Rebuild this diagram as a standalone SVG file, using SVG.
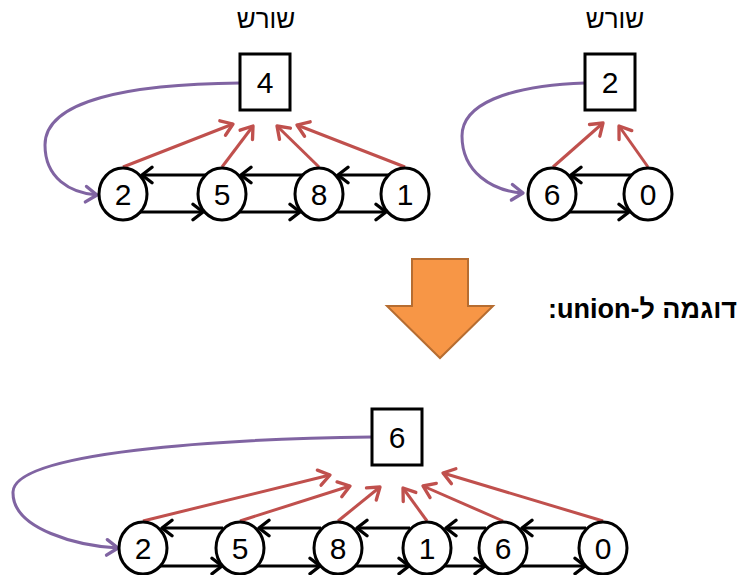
<svg xmlns="http://www.w3.org/2000/svg" width="742" height="575" viewBox="0 0 742 575">
  <defs>
    <marker id="head-black" markerUnits="userSpaceOnUse" markerWidth="20" markerHeight="20" viewBox="-12 -9 14 18" refX="0" refY="0" orient="auto">
      <path d="M-9,-7 L0,0 L-9,7" fill="none" stroke="#000" stroke-width="3" stroke-linecap="round" stroke-linejoin="round"/>
    </marker>
    <marker id="head-red" markerUnits="userSpaceOnUse" markerWidth="20" markerHeight="20" viewBox="-12 -9 14 18" refX="0" refY="0" orient="auto">
      <path d="M-10,-7 L0,0 L-10,7" fill="none" stroke="#C0504D" stroke-width="3" stroke-linecap="round" stroke-linejoin="round"/>
    </marker>
    <marker id="head-purple" markerUnits="userSpaceOnUse" markerWidth="20" markerHeight="20" viewBox="-12 -9 14 18" refX="0" refY="0" orient="auto">
      <path d="M-10,-7 L0,0 L-10,7" fill="none" stroke="#8064A2" stroke-width="3" stroke-linecap="round" stroke-linejoin="round"/>
    </marker>
  </defs>
  <style>
    .root rect { fill: #fff; stroke: #000; stroke-width: 3; }
    .item ellipse { fill: #fff; stroke: #000; stroke-width: 3; }
    .num { font-family: "Liberation Sans", Arial, sans-serif; font-size: 30px; fill: #000; text-anchor: middle; }
    .title { font-family: "Liberation Sans", "DejaVu Sans", sans-serif; font-size: 26px; fill: #000; text-anchor: middle; }
    .link { fill: none; stroke: #000; stroke-width: 3; marker-end: url(#head-black); }
    .up { fill: none; stroke: #C0504D; stroke-width: 3; marker-end: url(#head-red); }
    .first { fill: none; stroke: #8064A2; stroke-width: 3; marker-end: url(#head-purple); }
    .caption { font-family: "Liberation Sans", "DejaVu Sans", sans-serif; font-size: 27px; font-weight: bold; fill: #000; }
  </style>

  <rect width="742" height="575" fill="#fff"/>

  <!-- connectors -->
  <g id="connectors">
    <!-- set A: 2,5,8,1 -->
    <path class="first" d="M240,83 C130,84 45,100 45,145 C45,178 70,193 97,195"/>
    <line class="up" x1="123" y1="167" x2="233" y2="124"/>
    <line class="up" x1="222" y1="167" x2="253" y2="126"/>
    <line class="up" x1="319" y1="167" x2="277" y2="126"/>
    <line class="up" x1="405" y1="167" x2="297" y2="125"/>
    <line class="link" x1="206" y1="175" x2="142" y2="175"/>
    <line class="link" x1="303" y1="175" x2="241" y2="175"/>
    <line class="link" x1="389" y1="175" x2="338" y2="175"/>
    <line class="link" x1="140" y1="212" x2="203" y2="212"/>
    <line class="link" x1="239" y1="212" x2="300" y2="212"/>
    <line class="link" x1="336" y1="212" x2="386" y2="212"/>

    <!-- set B: 6,0 -->
    <path class="first" d="M585,83 C505,86 462,105 462,136 C462,172 492,191 523,193"/>
    <line class="up" x1="553" y1="167" x2="603" y2="123"/>
    <line class="up" x1="648" y1="167" x2="619" y2="126"/>
    <line class="link" x1="632" y1="175" x2="571" y2="175"/>
    <line class="link" x1="569" y1="212" x2="629" y2="212"/>

    <!-- merged set -->
    <path class="first" d="M372,437 C220,439 14,452 13,492 C12,530 80,546 118,548"/>
    <line class="up" x1="143" y1="521" x2="330" y2="475"/>
    <line class="up" x1="240" y1="521" x2="350" y2="486"/>
    <line class="up" x1="338" y1="521" x2="380" y2="487"/>
    <line class="up" x1="427" y1="521" x2="403" y2="488"/>
    <line class="up" x1="503" y1="521" x2="423" y2="486"/>
    <line class="up" x1="603" y1="521" x2="443" y2="473"/>
    <line class="link" x1="223" y1="528" x2="162" y2="528"/>
    <line class="link" x1="321" y1="528" x2="259" y2="528"/>
    <line class="link" x1="410" y1="528" x2="357" y2="528"/>
    <line class="link" x1="486" y1="528" x2="446" y2="528"/>
    <line class="link" x1="586" y1="528" x2="522" y2="528"/>
    <line class="link" x1="160" y1="566" x2="222" y2="566"/>
    <line class="link" x1="257" y1="566" x2="320" y2="566"/>
    <line class="link" x1="355" y1="566" x2="409" y2="566"/>
    <line class="link" x1="444" y1="566" x2="485" y2="566"/>
    <line class="link" x1="520" y1="566" x2="585" y2="566"/>
  </g>

  <!-- set A -->
  <text class="title" x="266" y="28">שורש</text>
  <g id="rootA" class="root"><rect x="240" y="54" width="50" height="56"/><text class="num" x="265" y="93">4</text></g>
  <g id="a2" class="item"><ellipse cx="123" cy="194" rx="24" ry="26"/><text class="num" x="123" y="205">2</text></g>
  <g id="a5" class="item"><ellipse cx="222" cy="194" rx="24" ry="26"/><text class="num" x="222" y="205">5</text></g>
  <g id="a8" class="item"><ellipse cx="319" cy="194" rx="24" ry="26"/><text class="num" x="319" y="205">8</text></g>
  <g id="a1" class="item"><ellipse cx="405" cy="194" rx="24" ry="26"/><text class="num" x="405" y="205">1</text></g>

  <!-- set B -->
  <text class="title" x="615" y="28">שורש</text>
  <g id="rootB" class="root"><rect x="585" y="54" width="50" height="56"/><text class="num" x="610" y="93">2</text></g>
  <g id="b6" class="item"><ellipse cx="552" cy="194" rx="24" ry="26"/><text class="num" x="552" y="205">6</text></g>
  <g id="b0" class="item"><ellipse cx="648" cy="194" rx="24" ry="26"/><text class="num" x="648" y="205">0</text></g>

  <!-- union step -->
  <g id="step">
    <path d="M412,259 L468,259 L468,306 L493,306 L440,358 L387,306 L412,306 Z" fill="#F79646" stroke="#B66D31" stroke-width="2"/>
    <text class="caption" x="737" y="318" direction="rtl" unicode-bidi="embed" text-anchor="start">דוגמה ל-union:</text>
  </g>

  <!-- merged set -->
  <g id="rootM" class="root"><rect x="372" y="409" width="50" height="56"/><text class="num" x="397" y="448">6</text></g>
  <g id="m2" class="item"><ellipse cx="143" cy="548" rx="24" ry="26"/><text class="num" x="143" y="559">2</text></g>
  <g id="m5" class="item"><ellipse cx="240" cy="548" rx="24" ry="26"/><text class="num" x="240" y="559">5</text></g>
  <g id="m8" class="item"><ellipse cx="338" cy="548" rx="24" ry="26"/><text class="num" x="338" y="559">8</text></g>
  <g id="m1" class="item"><ellipse cx="427" cy="548" rx="24" ry="26"/><text class="num" x="427" y="559">1</text></g>
  <g id="m6" class="item"><ellipse cx="503" cy="548" rx="24" ry="26"/><text class="num" x="503" y="559">6</text></g>
  <g id="m0" class="item"><ellipse cx="603" cy="548" rx="24" ry="26"/><text class="num" x="603" y="559">0</text></g>
</svg>
